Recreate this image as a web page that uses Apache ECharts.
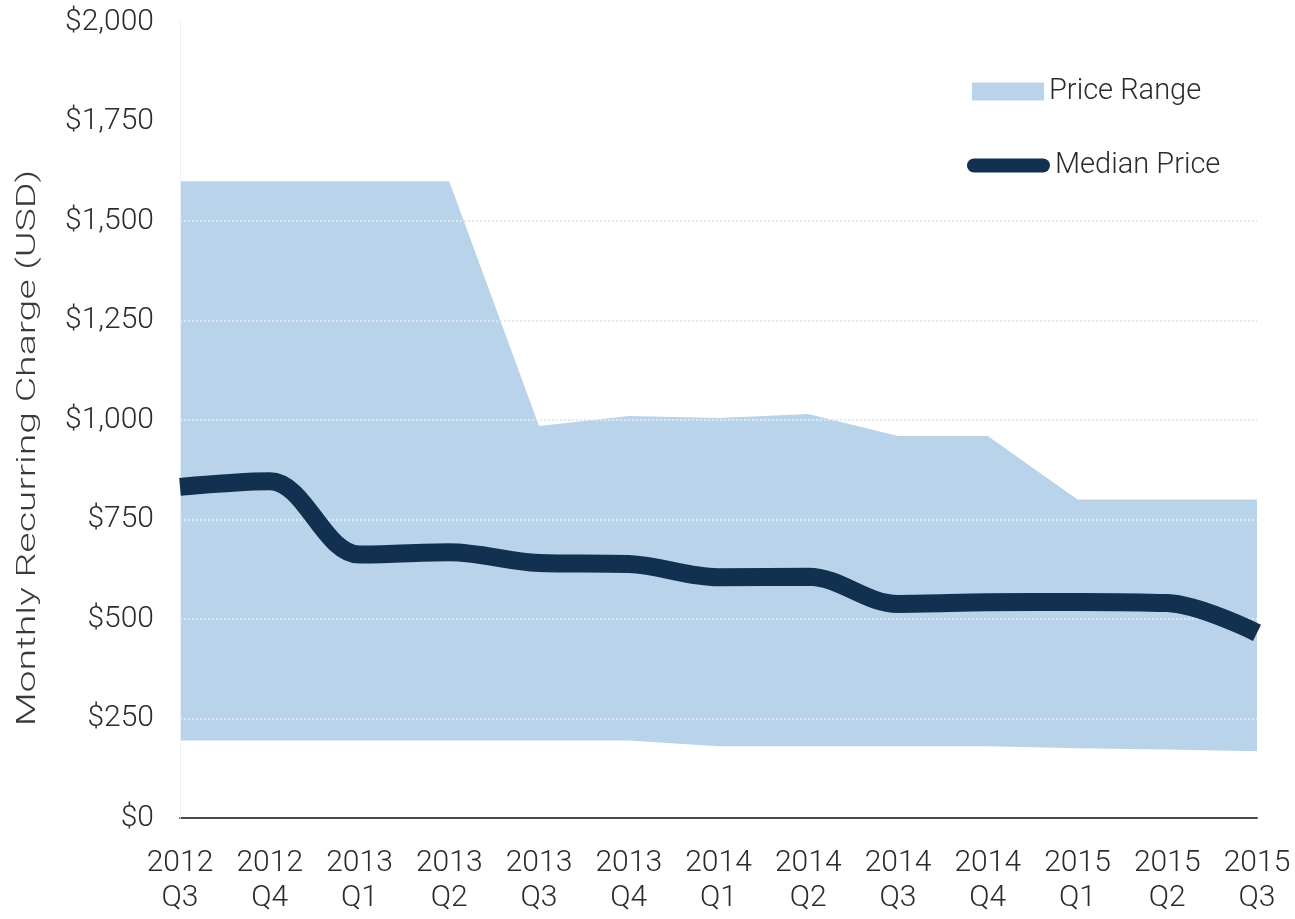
<!DOCTYPE html>
<html>
<head>
<meta charset="utf-8">
<script src="https://cdn.jsdelivr.net/npm/echarts@6/dist/echarts.min.js"></script>
<style>
  html, body { margin: 0; padding: 0; background: #fff; }
  #main { width: 1295px; height: 919px; }
</style>
</head>
<body>
<div id="main"></div>
<script>
// quarters on the x axis
var quarters = ["2012\nQ3", "2012\nQ4", "2013\nQ1", "2013\nQ2", "2013\nQ3", "2013\nQ4",
  "2014\nQ1", "2014\nQ2", "2014\nQ3", "2014\nQ4", "2015\nQ1", "2015\nQ2", "2015\nQ3"];
// price range: top and bottom edge
var rangeHigh = [1600, 1600, 1600, 1600, 985, 1010, 1005, 1015, 960, 960, 800, 800, 800];
var rangeLow = [195, 195, 195, 195, 195, 195, 180, 180, 180, 180, 175, 172, 168];
// median price
var median = [832, 846, 662, 668, 641, 638, 605, 606, 538, 542, 543, 540, 465];

// stacked band = high - low on top of an invisible low
var rangeBand = rangeHigh.map(function (v, i) { return v - rangeLow[i]; });

var font = "Roboto, 'Liberation Sans', Arial, sans-serif";
var txt = "#2b2b2b";
// dotted grid lines only from $250 to $1,500
var gridColors = ["rgba(0,0,0,0)", "#e1e8f1", "#e1e8f1", "#e1e8f1", "#e1e8f1", "#e1e8f1", "#e1e8f1",
  "rgba(0,0,0,0)", "rgba(0,0,0,0)"];

var myChart = echarts.init(document.getElementById("main"));
myChart.setOption({
  animation: false,
  textStyle: { fontFamily: font },
  grid: { left: 180, right: 38, top: 22, bottom: 101 },
  graphic: [
    {
      // axis title, stretched lengthwise like the original
      type: "text",
      x: 29, y: 448,
      rotation: Math.PI / 2,
      scaleX: 1.57,
      style: {
        text: "Monthly Recurring Charge (USD)",
        font: "300 25px " + font,
        fill: "#3a3a3a",
        align: "center",
        verticalAlign: "middle"
      }
    }
  ],
  legend: [
    {
      data: [{ name: "Price Range", icon: "rect" }],
      left: 967, top: 72,
      itemWidth: 72, itemHeight: 18,
      textStyle: { fontSize: 29, fontWeight: 300, color: txt, fontFamily: font }
    },
    {
      data: [{ name: "Median Price", icon: "path://M7,0 H76 A7,7 0 0 1 76,14 H7 A7,7 0 0 1 7,0 Z" }],
      left: 962, top: 146,
      itemWidth: 83, itemHeight: 14,
      textStyle: { fontSize: 29, fontWeight: 300, color: txt, fontFamily: font }
    }
  ],
  xAxis: {
    type: "category",
    data: quarters,
    boundaryGap: false,
    axisLine: { lineStyle: { color: "#4a4a4a", width: 2 } },
    axisTick: { show: false },
    axisLabel: { fontSize: 30, fontWeight: 300, color: txt, lineHeight: 35, margin: 28, interval: 0 }
  },
  yAxis: {
    type: "value",
    min: 0, max: 2000, interval: 250,
    z: 3,
    axisLine: { show: true, lineStyle: { color: "#eaf0f7" } },
    axisTick: { show: false },
    axisLabel: {
      fontSize: 30, fontWeight: 300, color: txt, margin: 26,
      formatter: function (v) { return "$" + v.toLocaleString("en-US"); }
    },
    splitLine: { lineStyle: { color: gridColors, type: "dotted", width: 2 } }
  },
  series: [
    {
      name: "low",
      type: "line",
      stack: "range",
      data: rangeLow,
      symbol: "none",
      lineStyle: { width: 0 },
      areaStyle: { opacity: 0 },
      z: 1
    },
    {
      name: "Price Range",
      type: "line",
      stack: "range",
      data: rangeBand,
      symbol: "none",
      itemStyle: { color: "#b9d3eb" },
      lineStyle: { width: 0 },
      areaStyle: { color: "#b9d3eb", opacity: 1 },
      z: 2
    },
    {
      name: "Median Price",
      type: "line",
      data: median,
      smooth: 0.35,
      symbol: "none",
      itemStyle: { color: "#12304f" },
      lineStyle: { color: "#12304f", width: 18 },
      z: 10
    }
  ]
});
</script>
</body>
</html>
